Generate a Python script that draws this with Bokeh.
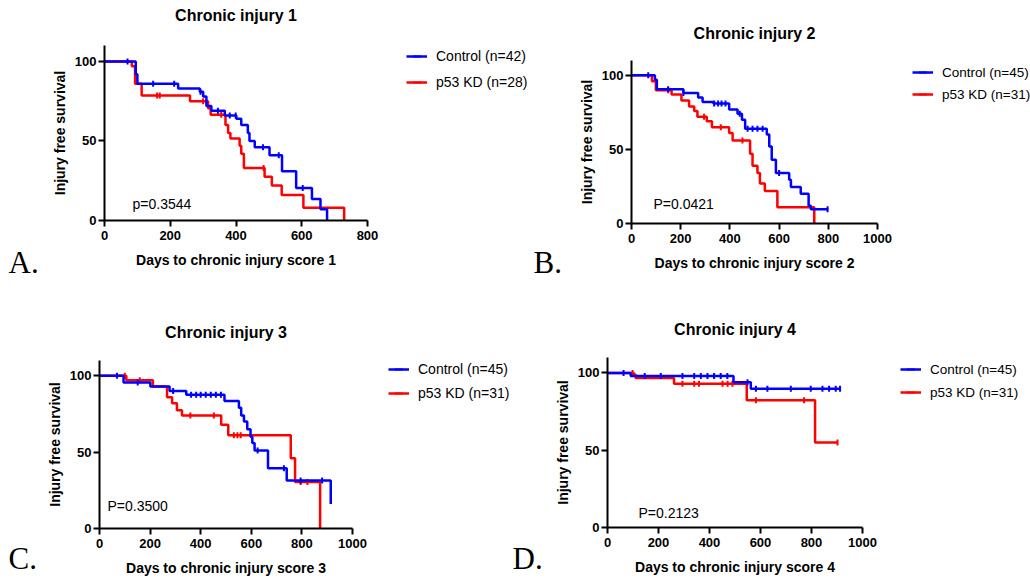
import numpy as np
from bokeh.plotting import figure
from bokeh.models import Range1d, Label, Legend, LegendItem
from bokeh.layouts import row, column
from bokeh.embed import file_html
from bokeh.resources import INLINE

# ---------------- data ----------------
BLUE = "#0000FF"
RED = "#FF0000"

# Panel A: chronic injury score 1
a_ctrl_t = [0, 95, 100, 224, 290, 300, 310, 325, 366, 401, 416, 436, 441, 457, 502, 540, 583, 631, 657, 677]
a_ctrl_s = [100, 92, 86, 83, 81, 78, 72, 69, 66, 64, 60, 55, 50, 46, 41, 31, 20.5, 13.5, 7, 0]
a_ctrl_c = [70, 148, 212, 292, 345, 381, 399, 482, 530, 603]
a_kd_t = [0, 83, 93, 113, 260, 315, 323, 368, 376, 383, 411, 416, 424, 487, 509, 539, 605, 729]
a_kd_s = [100, 97, 86, 78.5, 75, 70.5, 66.5, 60, 55, 51.5, 47, 42, 33, 27.5, 22, 16, 8, 0]
a_kd_c = [160, 168, 300, 355, 484]

# Panel B: chronic injury score 2
b_ctrl_t = [0, 95, 103, 211, 271, 289, 333, 397, 431, 449, 462, 550, 560, 570, 587, 641, 648, 688, 720, 729, 800]
b_ctrl_s = [100, 97, 90.6, 88, 85, 82, 81, 77, 74, 70, 64, 60, 52, 43, 34, 29.5, 24.6, 20, 12, 9.6, 9.6]
b_ctrl_c = [68, 149, 211, 336, 352, 366, 382, 440, 472, 492, 512, 533, 600, 797]
b_kd_t = [0, 83, 99, 163, 203, 234, 255, 268, 306, 327, 397, 411, 482, 492, 512, 522, 542, 593, 743]
b_kd_s = [100, 96, 90, 87, 83, 79, 76, 72, 69, 65, 61, 56, 47, 39, 34, 27, 22, 11, 0]
b_kd_c = [149, 295, 363, 451]

# Panel C: chronic injury score 3
c_ctrl_t = [0, 95, 201, 277, 343, 494, 551, 560, 571, 584, 597, 604, 613, 666, 740, 914]
c_ctrl_s = [100, 95.6, 93, 90, 87.5, 83.5, 79, 74, 70, 65, 60, 56, 51, 39.5, 31.5, 16]
c_ctrl_c = [69, 151, 291, 362, 382, 400, 420, 440, 460, 480, 625, 729, 795, 880]
c_kd_t = [0, 106, 211, 267, 287, 306, 326, 481, 509, 756, 773, 872]
c_kd_s = [100, 97, 93, 86, 82, 77.5, 74, 68, 61, 46, 30.5, 0]
c_kd_c = [100, 159, 359, 452, 531, 545, 558, 795, 822]

# Panel D: chronic injury score 4
d_ctrl_t = [0, 91, 494, 562, 912]
d_ctrl_s = [100, 98, 94, 89.7, 89.7]
d_ctrl_c = [63, 146, 209, 294, 340, 366, 392, 418, 444, 470, 549, 582, 627, 719, 797, 843, 869, 895, 912]
d_kd_t = [0, 103, 110, 261, 546, 814, 902]
d_kd_s = [100, 99, 96.8, 93, 82.3, 55, 55]
d_kd_c = [98, 294, 340, 359, 451, 471, 490, 582, 771, 902]

titles = ["Chronic injury 1", "Chronic injury 2", "Chronic injury 3", "Chronic injury 4"]
xlabels = ["Days to chronic injury score 1", "Days to chronic injury score 2",
           "Days to chronic injury score 3", "Days to chronic injury score 4"]
letters = ["A.", "B.", "C.", "D."]
pvalues = ["p=0.3544", "P=0.0421", "P=0.3500", "P=0.2123"]
ctrl_labels = ["Control (n=42)", "Control (n=45)", "Control (n=45)", "Control (n=45)"]
kd_labels = ["p53 KD (n=28)", "p53 KD (n=31)", "p53 KD (n=31)", "p53 KD (n=31)"]
x_max = [800, 1000, 1000, 1000]
y_max = 110
y_ticks = [0, 50, 100]

FONT = "Liberation Sans"


def surv_at(t, s, ct):
    t = np.asarray(t, dtype=float)
    s = np.asarray(s, dtype=float)
    idx = np.searchsorted(t, np.asarray(ct, dtype=float), side="right") - 1
    return s[idx]


def panel(i, W, H, L, R, T, B, series, title_xy, letter_xy, p_xy, leg_xy, leg_spacing, leg_font="14px"):
    # L,R,T,B: pixel positions (inside the figure) of x=0, x=max, y=max, y=0
    xmax = x_max[i]
    kx = xmax / (R - L)
    ky = y_max / (B - T)
    p = figure(width=W, height=H, output_backend="svg", toolbar_location=None,
               x_range=Range1d(-L * kx, (W - L) * kx),
               y_range=Range1d(-(H - B) * ky, B * ky),
               min_border_left=0, min_border_right=0, min_border_top=0, min_border_bottom=0)
    p.outline_line_color = None
    p.grid.visible = False
    p.background_fill_color = "white"
    p.border_fill_color = "white"

    for ax in (p.xaxis[0], p.yaxis[0]):
        ax.fixed_location = 0
        ax.axis_line_width = 2
        ax.axis_line_color = "black"
        ax.major_tick_line_width = 2
        ax.major_tick_line_color = "black"
        ax.major_tick_in = 0
        ax.major_tick_out = 6
        ax.minor_tick_line_color = None
        ax.major_label_text_font = FONT
        ax.major_label_text_font_style = "bold"
        ax.major_label_text_font_size = "13px"
        ax.major_label_text_color = "black"
        ax.axis_label_text_font = FONT
        ax.axis_label_text_font_style = "bold"
        ax.axis_label_text_font_size = "14px"
        ax.axis_label_text_color = "black"
    p.xaxis.bounds = (0, xmax)
    p.yaxis.bounds = (0, y_max)
    p.xaxis.ticker = list(range(0, xmax + 1, 200))
    p.yaxis.ticker = y_ticks
    p.xaxis.major_label_standoff = 4
    p.yaxis.major_label_standoff = 2
    p.xaxis.axis_label = xlabels[i]
    p.yaxis.axis_label = "Injury free survival"
    p.xaxis.axis_label_standoff = 9
    p.yaxis.axis_label_standoff = 4

    renderers = {}
    for key, (t, s, c, color) in series:
        rl = p.step(t, s, mode="after", line_color=color, line_width=2.5)
        rc = p.scatter(c, surv_at(t, s, c), marker="dash", angle=np.pi / 2, size=6,
                       line_color=color, line_width=2)
        renderers[key] = [rl, rc]

    legend = Legend(items=[LegendItem(label=ctrl_labels[i], renderers=renderers["ctrl"]),
                           LegendItem(label=kd_labels[i], renderers=renderers["kd"])],
                    location=(leg_xy[0], H - leg_xy[1]), orientation="vertical",
                    glyph_width=21, glyph_height=20, label_height=20, label_standoff=9,
                    spacing=leg_spacing, padding=0, margin=0,
                    border_line_color=None, background_fill_alpha=0,
                    label_text_font=FONT, label_text_font_size=leg_font, label_text_color="black")
    p.add_layout(legend)

    def lab(xy, text, **kw):
        p.add_layout(Label(x=xy[0], y=H - xy[1], x_units="screen", y_units="screen",
                           text=text, text_color="black", **kw))

    lab(title_xy, titles[i], text_align="center", text_baseline="middle", text_font=FONT,
        text_font_style="bold", text_font_size="16px")
    lab(p_xy, pvalues[i], text_align="left", text_baseline="middle", text_font=FONT,
        text_font_size="14px")
    lab(letter_xy, letters[i], text_align="left", text_baseline="middle",
        text_font="Liberation Serif", text_font_size="31px")
    return p


# figure-local pixel layout; leg_xy = (glyph left, legend bottom)
pA = panel(0, 528, 290, 104, 367, 45, 220,
           [("kd", (a_kd_t, a_kd_s, a_kd_c, RED)), ("ctrl", (a_ctrl_t, a_ctrl_s, a_ctrl_c, BLUE))],
           title_xy=(235.5, 15), letter_xy=(8, 262), p_xy=(132, 203), leg_xy=(406, 92), leg_spacing=6)
pB = panel(1, 502, 290, 103, 349, 60, 223,
           [("kd", (b_kd_t, b_kd_s, b_kd_c, RED)), ("ctrl", (b_ctrl_t, b_ctrl_s, b_ctrl_c, BLUE))],
           title_xy=(226, 33), letter_xy=(5, 262), p_xy=(125, 203), leg_xy=(384, 104), leg_spacing=2,
           leg_font="13.5px")
pC = panel(2, 511, 288, 99, 352, 70, 238,
           [("kd", (c_kd_t, c_kd_s, c_kd_c, RED)), ("ctrl", (c_ctrl_t, c_ctrl_s, c_ctrl_c, BLUE))],
           title_xy=(225.5, 42), letter_xy=(8, 268), p_xy=(107, 215), leg_xy=(388, 113), leg_spacing=4)
pD = panel(3, 511, 288, 96, 351, 67, 237,
           [("kd", (d_kd_t, d_kd_s, d_kd_c, RED)), ("ctrl", (d_ctrl_t, d_ctrl_s, d_ctrl_c, BLUE))],
           title_xy=(223.5, 39), letter_xy=(1, 268), p_xy=(127, 222), leg_xy=(389, 112), leg_spacing=3,
           leg_font="13.5px")

layout = column(row(pA, pB), row(pC, pD))
open("out.html", "w").write(file_html(layout, INLINE))
